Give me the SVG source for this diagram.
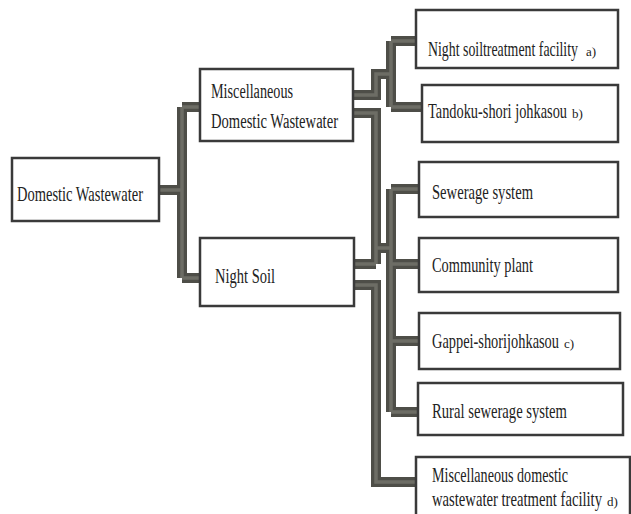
<svg xmlns="http://www.w3.org/2000/svg" width="631" height="514" viewBox="0 0 631 514">
<style>
.box{fill:#fff;stroke:#3a3a3a;stroke-width:2.5}
.t{font-family:"Liberation Serif","Times New Roman",serif;font-size:21px;fill:#222}
.s{font-size:13px}
.co{fill:none;stroke:#4e4e48;stroke-width:10;stroke-linejoin:miter}
.ci{fill:none;stroke:#6d6d65;stroke-width:3.5;stroke-linejoin:miter}
</style>
<defs>
<g id="paths">
<path d="M159,190H182M182,107V278M182,107H200M182,278H200"/>
<path d="M353,95H376V74H391M391,41V107M391,41H416M391,107H422"/>
<path d="M353,113H376V264M353,264H376M376,248H391"/>
<path d="M391,189V412M391,189H419M391,264H419M391,341H419M391,412H419"/>
<path d="M353,285H376V482H416"/>
</g>
</defs>
<rect width="631" height="514" fill="#fff"/>
<g id="connectors">
<use href="#paths" class="co"/>
<use href="#paths" class="ci"/>
</g>
<g id="domestic-wastewater"><rect class="box" x="12" y="158" width="147" height="63"/><text class="t" x="17" y="201" textLength="126" lengthAdjust="spacingAndGlyphs">Domestic Wastewater</text></g>
<g id="misc-domestic-wastewater"><rect class="box" x="200" y="69" width="153" height="72"/><text class="t" x="211" y="98" textLength="82" lengthAdjust="spacingAndGlyphs" style="font-size:20px">Miscellaneous</text><text class="t" x="211" y="128" textLength="127" lengthAdjust="spacingAndGlyphs" style="font-size:20px">Domestic Wastewater</text></g>
<g id="night-soil"><rect class="box" x="200" y="238" width="154" height="68"/><text class="t" x="215" y="283" textLength="60" lengthAdjust="spacingAndGlyphs">Night Soil</text></g>
<g id="night-soil-treatment"><rect class="box" x="416" y="10" width="202" height="58"/><text class="t" x="428" y="56" textLength="150" lengthAdjust="spacingAndGlyphs">Night soiltreatment facility</text><text class="t s" x="586" y="56">a)</text></g>
<g id="tandoku"><rect class="box" x="422" y="85" width="196" height="57"/><text class="t" x="428" y="118" textLength="139" lengthAdjust="spacingAndGlyphs">Tandoku-shori johkasou</text><text class="t s" x="572" y="118">b)</text></g>
<g id="sewerage"><rect class="box" x="419" y="162" width="199" height="55"/><text class="t" x="432" y="199" textLength="101" lengthAdjust="spacingAndGlyphs">Sewerage system</text></g>
<g id="community"><rect class="box" x="419" y="238" width="199" height="54"/><text class="t" x="432" y="272" textLength="101" lengthAdjust="spacingAndGlyphs">Community plant</text></g>
<g id="gappei"><rect class="box" x="419" y="313" width="201" height="56"/><text class="t" x="432" y="348" textLength="127" lengthAdjust="spacingAndGlyphs">Gappei-shorijohkasou</text><text class="t s" x="564" y="348">c)</text></g>
<g id="rural"><rect class="box" x="418" y="383" width="205" height="52"/><text class="t" x="432" y="418" textLength="135" lengthAdjust="spacingAndGlyphs">Rural sewerage system</text></g>
<g id="misc-treatment"><rect class="box" x="416" y="457" width="214" height="70"/><text class="t" x="432" y="482" textLength="136" lengthAdjust="spacingAndGlyphs">Miscellaneous domestic</text><text class="t" x="432" y="506" textLength="170" lengthAdjust="spacingAndGlyphs">wastewater treatment facility</text><text class="t s" x="607" y="506">d)</text></g>
</svg>
